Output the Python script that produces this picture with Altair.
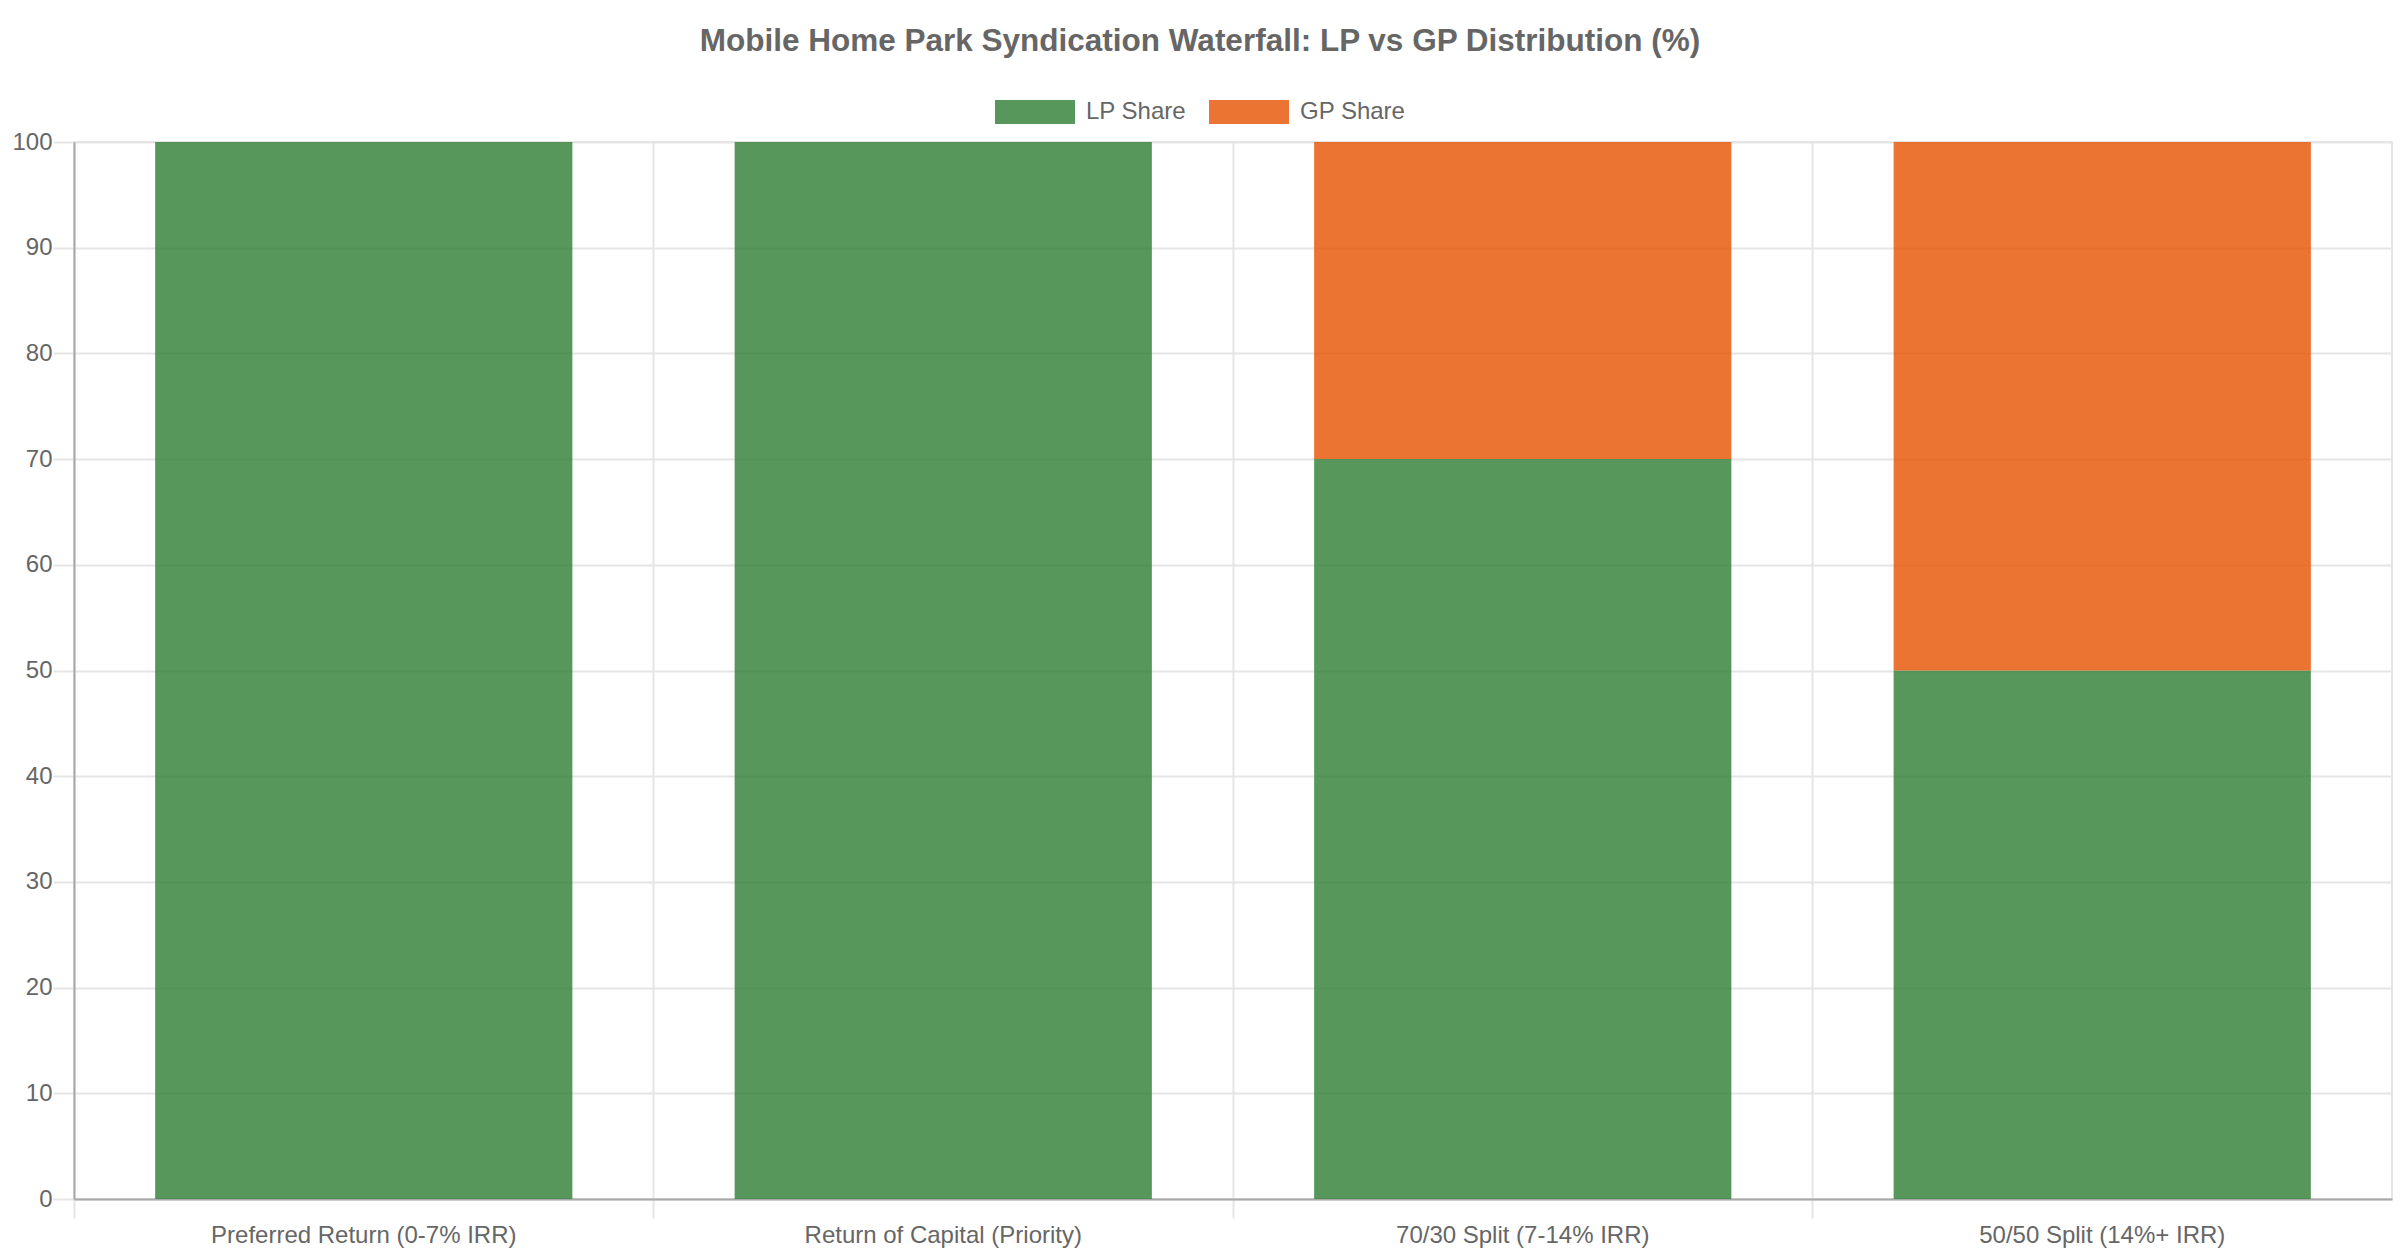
import altair as alt
import pandas as pd

categories = [
    "Preferred Return (0-7% IRR)",
    "Return of Capital (Priority)",
    "70/30 Split (7-14% IRR)",
    "50/50 Split (14%+ IRR)",
]
lp_share = [100, 100, 70, 50]
gp_share = [0, 0, 30, 50]
series = ["LP Share", "GP Share"]
colors = ["#2E7D32", "#E65100"]

rows = []
for cat, lp, gp in zip(categories, lp_share, gp_share):
    rows.append({"stage": cat, "party": "LP Share", "share": lp, "rank": 0})
    rows.append({"stage": cat, "party": "GP Share", "share": gp, "rank": 1})
df = pd.DataFrame(rows)

W, H = 2318, 1057
TEXT = "#666666"
GRID = "#e5e5e5"
AXIS = "#a8a8a8"

chart = (
    alt.Chart(df)
    .mark_bar(width=alt.RelativeBandSize(0.72), opacity=0.8)
    .encode(
        x=alt.X(
            "stage:N",
            sort=categories,
            scale=alt.Scale(paddingInner=0, paddingOuter=0),
            axis=alt.Axis(
                title=None,
                bandPosition=0,
                labelAngle=0,
                labelFontSize=24,
                labelColor=TEXT,
                labelLimit=800,
                labelOverlap=False,
                labelPadding=5,
                tickSize=19,
                tickColor=GRID,
                tickWidth=2,
                grid=True,
                gridColor=GRID,
                gridWidth=2,
                domainColor=AXIS,
                domainWidth=2,
            ),
        ),
        y=alt.Y(
            "share:Q",
            stack="zero",
            scale=alt.Scale(domain=[0, 100], nice=False),
            axis=alt.Axis(
                title=None,
                values=list(range(0, 101, 10)),
                labelFontSize=24,
                labelColor=TEXT,
                labelPadding=1,
                tickSize=21,
                tickColor=GRID,
                tickWidth=2,
                grid=True,
                gridColor=GRID,
                gridWidth=2,
                domainColor=AXIS,
                domainWidth=2,
            ),
        ),
        color=alt.Color(
            "party:N",
            scale=alt.Scale(domain=series, range=colors),
            legend=alt.Legend(
                title=None,
                orient="none",
                direction="horizontal",
                legendX=921,
                legendY=-70,
                padding=0,
                symbolType="M-1,-0.3L1,-0.3L1,0.3L-1,0.3Z",
                symbolSize=6400,
                symbolStrokeWidth=0,
                symbolOpacity=0.8,
                labelFontSize=24,
                labelColor=TEXT,
                labelOffset=11,
                columnPadding=22,
            ),
        ),
        order=alt.Order("rank:Q"),
    )
    .properties(
        width=W,
        height=H,
        title=alt.TitleParams(
            "Mobile Home Park Syndication Waterfall: LP vs GP Distribution (%)",
            fontSize=31.5,
            fontWeight="bold",
            color=TEXT,
            anchor="middle",
            baseline="alphabetic",
            offset=21,
            dy=31,
            dx=-33,
        ),
        autosize=alt.AutoSizeParams(type="none"),
        padding={"left": 74, "top": 142, "right": 8, "bottom": 61},
    )
    .configure(font="Liberation Sans", background="white")
    .configure_view(stroke=GRID, strokeWidth=2)
)

chart.save("out.html", embed_options={"renderer": "svg", "actions": False})
